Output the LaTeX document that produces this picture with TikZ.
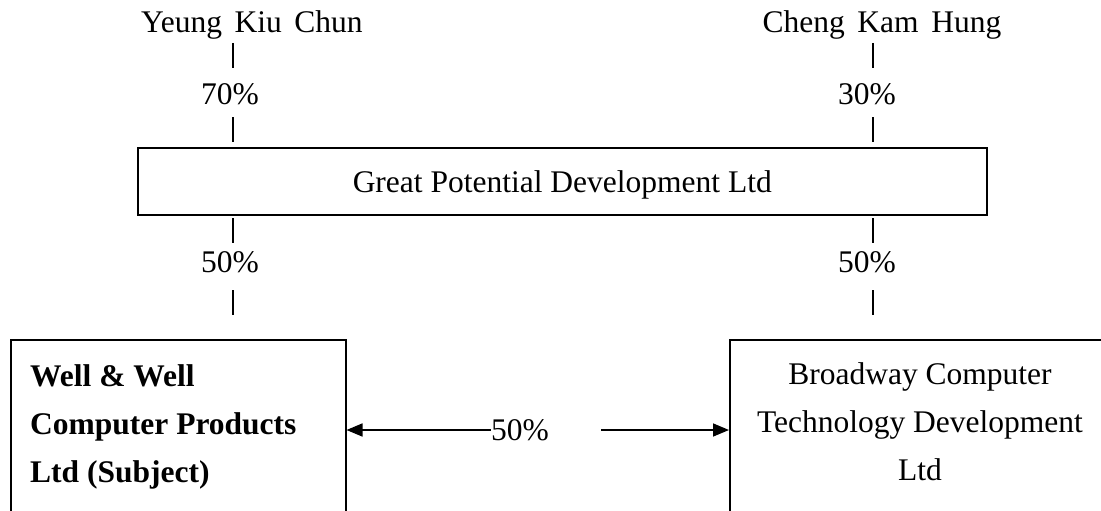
\documentclass[tikz,border=0pt]{standalone}
\usepackage{fontspec}
\setmainfont{Liberation Serif}
\usetikzlibrary{arrows.meta}
\begin{document}
\begin{tikzpicture}[x=1pt,y=-1pt,
  txt/.style={font=\fontsize{31.5}{48}\selectfont, inner sep=0pt},
  btxt/.style={font=\fontsize{31.5}{48}\selectfont\bfseries, inner sep=0pt},
  box/.style={draw, line width=1.5pt, inner sep=0pt},
  bar/.style={line width=1.6pt},
  arr/.style={line width=1.6pt, -{Triangle[length=16pt,width=13pt]}}]
\clip (0,0) rectangle (1101,511);
% owners
\node[txt, anchor=base] (ykc) at (252,33) {Yeung\hspace{0.4em}Kiu\hspace{0.4em}Chun};
\node[txt, anchor=base] (chk) at (882,33) {Cheng\hspace{0.4em}Kam\hspace{0.4em}Hung};
\node[txt, anchor=base] (p70) at (230,105) {70\%};
\node[txt, anchor=base] (p30) at (867,105) {30\%};
% holding company
\node[box, txt, minimum width=849pt, minimum height=67pt, text depth=0pt, anchor=north west] (gpd) at (137,147) {Great Potential Development Ltd};
\node[txt, anchor=base] (p50a) at (230,272) {50\%};
\node[txt, anchor=base] (p50b) at (867,272) {50\%};
% bars
\foreach \ya/\yb in {43/68,117/142,218/243,290/315}{
  \draw[bar] (233,\ya) -- (233,\yb);
  \draw[bar] (873,\ya) -- (873,\yb);
}
% subsidiaries
\node[box, minimum width=335pt, minimum height=221pt, anchor=north west] (wbox) at (10,339) {};
\node[btxt, align=left, anchor=base west] (wtext) at (30,482) {Well \& Well\\Computer Products\\Ltd (Subject)};
\node[box, minimum width=382pt, minimum height=221pt, anchor=north west] (bbox) at (729,339) {};
\node[txt, align=center, anchor=base] (btext) at (920,480) {Broadway Computer\\Technology Development\\Ltd};
% cross holding
\node[txt, anchor=base] (p50c) at (520,440) {50\%};
\coordinate (a2) at (601,430);
\draw[arr] (p50c.west |- a2) -- (wbox.east |- a2);
\draw[arr] (a2) -- (bbox.west |- a2);
\end{tikzpicture}
\end{document}
